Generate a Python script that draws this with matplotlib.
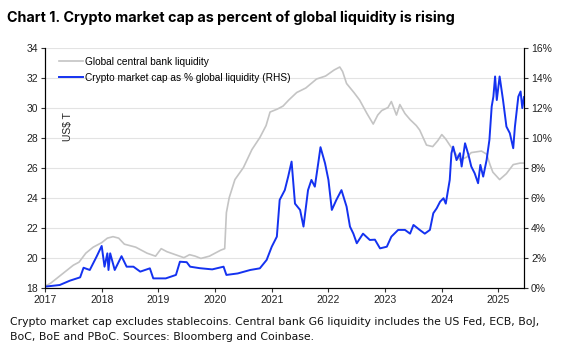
import matplotlib
matplotlib.use("Agg")
import matplotlib.pyplot as plt
from matplotlib import font_manager

names = {f.name for f in font_manager.fontManager.ttflist}
narrow = "Liberation Sans Narrow" if "Liberation Sans Narrow" in names else "Liberation Sans"

## data

liq_t = [2017.0, 2017.1, 2017.2, 2017.3, 2017.4, 2017.5, 2017.6, 2017.72, 2017.85, 2018.0,
         2018.1, 2018.2, 2018.3, 2018.4, 2018.5, 2018.6, 2018.7, 2018.8, 2018.95, 2019.05,
         2019.15, 2019.3, 2019.45, 2019.55, 2019.65, 2019.75, 2019.9, 2020.0, 2020.1, 2020.17,
         2020.2, 2020.25, 2020.35, 2020.5, 2020.65, 2020.79, 2020.9, 2020.97, 2021.1, 2021.2,
         2021.3, 2021.44, 2021.6, 2021.79, 2021.95, 2022.1, 2022.2, 2022.25, 2022.32, 2022.45,
         2022.55, 2022.68, 2022.79, 2022.87, 2022.94, 2023.05, 2023.11, 2023.2, 2023.26, 2023.35,
         2023.44, 2023.55, 2023.61, 2023.73, 2023.84, 2023.93, 2024.0, 2024.07, 2024.14, 2024.25,
         2024.32, 2024.44, 2024.52, 2024.61, 2024.7, 2024.79, 2024.85, 2024.9, 2025.02, 2025.14,
         2025.26, 2025.38, 2025.45]
liq_v = [18.1, 18.3, 18.6, 18.9, 19.2, 19.5, 19.7, 20.3, 20.7, 21.0,
         21.3, 21.4, 21.3, 20.9, 20.8, 20.7, 20.5, 20.3, 20.1, 20.6,
         20.4, 20.2, 20.0, 20.2, 20.1, 19.95, 20.1, 20.3, 20.5, 20.6,
         23.0, 24.0, 25.2, 26.0, 27.2, 28.0, 28.8, 29.7, 29.9, 30.1,
         30.5, 31.0, 31.3, 31.9, 32.1, 32.5, 32.7, 32.4, 31.6, 31.0,
         30.5, 29.6, 28.9, 29.5, 29.8, 30.0, 30.4, 29.5, 30.2, 29.6,
         29.2, 28.8, 28.5, 27.5, 27.4, 27.8, 28.2, 27.9, 27.5, 26.9,
         26.5, 26.7, 27.0, 27.05, 27.1, 26.9, 26.2, 25.7, 25.2, 25.6,
         26.2, 26.3, 26.3]

cap_t = [2017.0, 2017.26, 2017.44, 2017.62, 2017.68, 2017.79, 2017.91, 2018.0, 2018.05, 2018.1,
         2018.12, 2018.15, 2018.23, 2018.35, 2018.44, 2018.56, 2018.68, 2018.85, 2018.91, 2019.13,
         2019.31, 2019.38, 2019.5, 2019.56, 2019.73, 2019.95, 2020.15, 2020.2, 2020.4, 2020.62,
         2020.79, 2020.91, 2021.0, 2021.09, 2021.14, 2021.23, 2021.29, 2021.35, 2021.41, 2021.5,
         2021.56, 2021.64, 2021.7, 2021.76, 2021.82, 2021.86, 2021.94, 2022.0, 2022.06, 2022.14,
         2022.23, 2022.32, 2022.38, 2022.44, 2022.5, 2022.61, 2022.73, 2022.82, 2022.91, 2023.03,
         2023.11, 2023.23, 2023.35, 2023.44, 2023.5, 2023.61, 2023.7, 2023.79, 2023.85, 2023.91,
         2023.97, 2024.03, 2024.07, 2024.14, 2024.17, 2024.2, 2024.26, 2024.32, 2024.35, 2024.41,
         2024.47, 2024.52, 2024.58, 2024.64, 2024.68, 2024.73, 2024.79, 2024.84, 2024.88, 2024.91,
         2024.94, 2024.97, 2025.02, 2025.08, 2025.14, 2025.2, 2025.26, 2025.29, 2025.35, 2025.39,
         2025.42, 2025.45]
cap_v = [0.07, 0.18, 0.47, 0.69, 1.33, 1.18, 2.07, 2.78, 1.4, 2.29,
         1.18, 2.29, 1.18, 2.1, 1.4, 1.4, 1.07, 1.29, 0.62, 0.62,
         0.85, 1.73, 1.7, 1.4, 1.3, 1.22, 1.4, 0.85, 0.95, 1.18,
         1.29, 1.85, 2.73, 3.4, 5.85, 6.5, 7.4, 8.4, 5.6, 5.18,
         4.07, 6.5, 7.18, 6.73, 8.29, 9.36, 8.29, 7.18, 5.18, 5.85,
         6.5, 5.4, 4.07, 3.6, 2.96, 3.6, 3.18, 3.2, 2.62, 2.73,
         3.4, 3.85, 3.85, 3.6, 4.18, 3.85, 3.6, 3.85, 4.96, 5.29,
         5.73, 5.96, 5.6, 7.18, 8.96, 9.4, 8.5, 8.96, 8.07, 9.62,
         8.85, 8.07, 7.62, 6.96, 8.18, 7.4, 8.5, 9.85, 12.07, 12.73,
         14.07, 12.5, 14.07, 12.5, 10.73, 10.29, 9.29, 10.73, 12.73, 13.07,
         11.96, 12.7]

years = list(range(2017, 2026))
left_ticks = list(range(18, 35, 2))
right_ticks = list(range(0, 17, 2))

fig = plt.figure(figsize=(5.68, 3.6), dpi=100)
ax = fig.add_axes([45/568, 1-287.7/360, (524-45)/568, (287.7-47.5)/360])
ax2 = ax.twinx()

ax.plot(liq_t, liq_v, color='#c4c4c4', lw=1.2, label='Global central bank liquidity')
ax2.plot(cap_t, cap_v, color='#1432f0', lw=1.4, label='Crypto market cap as % global liquidity (RHS)')

ax.set_xlim(2017, 2025.45)
ax.set_ylim(18, 34)
ax2.set_ylim(0, 16)
ax.set_xticks(years)
ax.set_xticklabels([str(y) for y in years])
ax.set_yticks(left_ticks)
ax2.set_yticks(right_ticks)
ax2.set_yticklabels([f'{v}%' for v in right_ticks])
ax.grid(axis='y', color='#e3e3e3', lw=0.8)
ax.set_axisbelow(True)

for a in (ax, ax2):
    a.spines['top'].set_visible(False)
    a.tick_params(labelsize=7.5, length=3, width=0.8, pad=2, colors='#333333')
    for lab in a.get_xticklabels() + a.get_yticklabels():
        lab.set_fontfamily(narrow)
        lab.set_color('#222222')
ax.spines['bottom'].set_color('#333333')

ax.text(0.048, 0.67, 'US$ T', transform=ax.transAxes, rotation=90, fontsize=7.5,
        family=narrow, color='#222222', va='center', ha='center')

h1, l1 = ax.get_legend_handles_labels()
h2, l2 = ax2.get_legend_handles_labels()
ax2.legend(h1 + h2, l1 + l2, loc='upper left', bbox_to_anchor=(0.01, 1.0), frameon=False,
           handlelength=2.4, handletextpad=0.2, labelspacing=0.62,
           prop={'family': narrow, 'size': 7.3})

fig.text(7/568, 1-18/360, 'Chart 1. Crypto market cap as percent of global liquidity is rising',
         fontsize=10.35, fontweight='bold', family='Inter', va='center', ha='left')
fig.text(10/568, 1-317/360, 'Crypto market cap excludes stablecoins. Central bank G6 liquidity includes the US Fed, ECB, BoJ,\nBoC, BoE and PBoC. Sources: Bloomberg and Coinbase.',
         fontsize=7.8, family='DejaVu Sans', va='top', ha='left', linespacing=1.6, color='#111111')

fig.savefig('out.png', dpi=100)
